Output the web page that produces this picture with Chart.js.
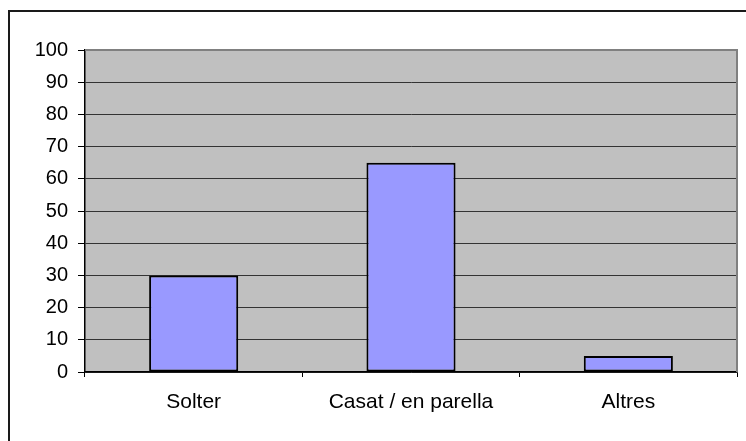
<!DOCTYPE html>
<html>
<head>
<meta charset="utf-8">
<script src="https://cdn.jsdelivr.net/npm/chart.js@4"></script>
<style>
  html, body { margin: 0; padding: 0; background: #fff; overflow: hidden; }
  #wrap { width: 746px; height: 441px; }
</style>
</head>
<body>
<div id="wrap"><canvas id="grafic" width="746" height="441"></canvas></div>
<script>
// ==== Dades ====
const categories = ['Solter', 'Casat / en parella', 'Altres'];
const valors = [30, 65, 5];
const yMin = 0;
const yMax = 100;
const yStep = 10;

// fons gris de l'àrea del gràfic + vores
const fonsPlugin = {
    id: 'fons',
    beforeDraw(chart) {
        const { ctx, chartArea: a } = chart;
        ctx.save();
        ctx.fillStyle = '#C0C0C0';
        ctx.fillRect(a.left, a.top, a.right - a.left, a.bottom - a.top);
        ctx.restore();
    },
    afterDraw(chart) {
        const { ctx, chartArea: a } = chart;
        ctx.save();
        // vora grisa superior i dreta
        ctx.strokeStyle = '#808080';
        ctx.lineWidth = 2;
        ctx.beginPath();
        ctx.moveTo(a.left, a.top);
        ctx.lineTo(a.right, a.top);
        ctx.lineTo(a.right, a.bottom);
        ctx.stroke();
        // marc exterior (es talla a la dreta i a baix)
        ctx.strokeStyle = '#1a1a1a';
        ctx.lineWidth = 2;
        ctx.strokeRect(9, 11, 800, 500);
        ctx.restore();
    }
};

const ctx = document.getElementById('grafic').getContext('2d');
const grafic = new Chart(ctx, {
    type: 'bar',
    data: {
        labels: categories,
        datasets: [{
            data: valors,
            backgroundColor: '#9999FF',
            borderColor: '#000000',
            borderWidth: 2,
            borderSkipped: false,
            categoryPercentage: 1.0,
            barPercentage: 0.41
        }]
    },
    options: {
        responsive: false,
        animation: false,
        layout: { padding: { top: 50, right: 9, left: 0, bottom: 0 } },
        plugins: {
            legend: { display: false },
            tooltip: { enabled: false }
        },
        scales: {
            x: {
                afterFit(s) { s.height = 69; },
                grid: {
                    offset: true,
                    drawOnChartArea: false,
                    drawTicks: true,
                    tickLength: 5,
                    color: '#000000'
                },
                border: { color: '#000000', width: 1.5 },
                ticks: {
                    color: '#000000',
                    padding: 13,
                    maxRotation: 0,
                    font: { family: '"Liberation Sans", Arial, sans-serif', size: 21 }
                }
            },
            y: {
                min: yMin,
                max: yMax,
                afterFit(s) { s.width = 85; },
                grid: {
                    color: '#333333',
                    lineWidth: 1,
                    drawTicks: true,
                    tickLength: 7,
                    tickColor: '#000000'
                },
                border: { color: '#000000', width: 1.5 },
                ticks: {
                    stepSize: yStep,
                    color: '#000000',
                    padding: 10,
                    font: { family: '"Liberation Sans", Arial, sans-serif', size: 20 }
                }
            }
        }
    },
    plugins: [fonsPlugin]
});
</script>
</body>
</html>
